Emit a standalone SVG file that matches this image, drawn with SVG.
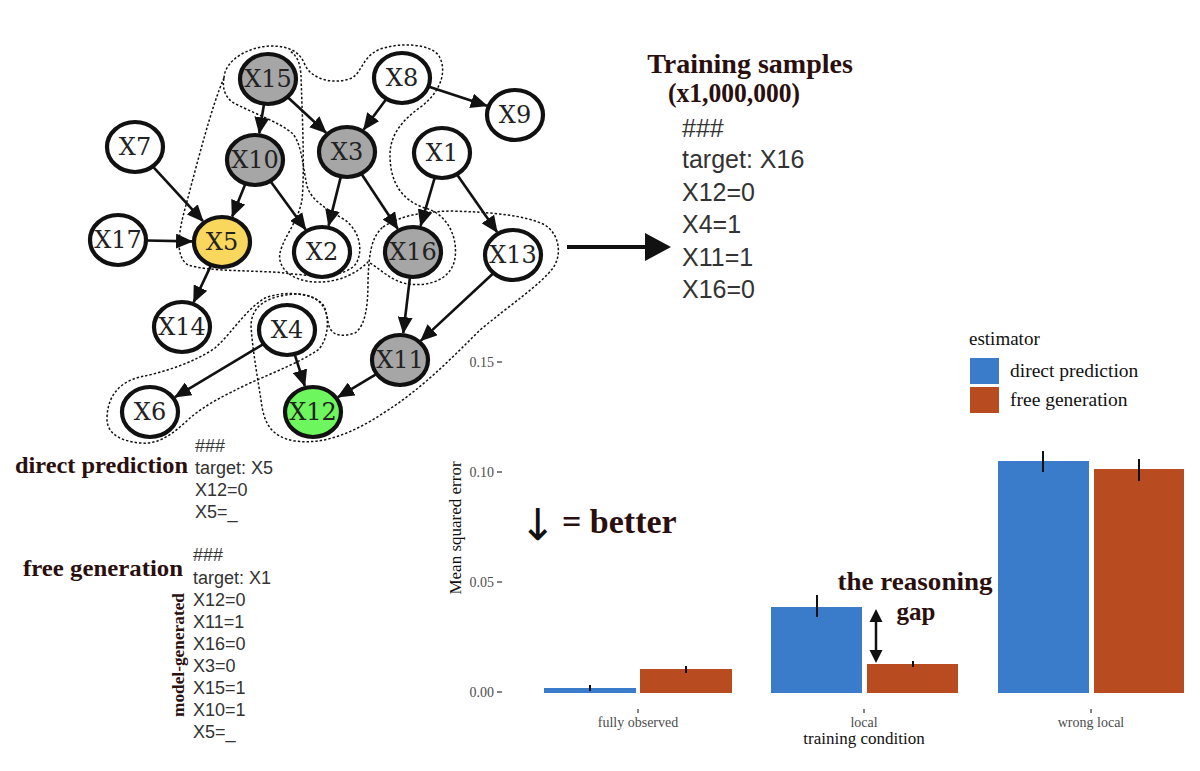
<svg xmlns="http://www.w3.org/2000/svg" width="1200" height="771" viewBox="0 0 1200 771">
<style>
.n ellipse{stroke:#111;stroke-width:4.2}
.n text{font-family:"DejaVu Serif",serif;font-size:24px;fill:#222;text-anchor:middle;dominant-baseline:central}
.w{fill:#fff}.g{fill:#a6a6a6}
.e line{stroke:#111;stroke-width:2.6}
.c path{fill:none;stroke:#111;stroke-width:1.5;stroke-dasharray:2.4 2}
.s{font-family:"Liberation Sans",Arial,sans-serif;fill:#333}
.b{font-family:"Liberation Serif","Times New Roman",serif;font-weight:bold;fill:#2b0f0f}
.r{font-family:"Liberation Serif","Times New Roman",serif}
.t{font-size:14px;fill:#4d4d4d;text-anchor:end}
.xt{font-size:14px;fill:#4d4d4d;text-anchor:middle}
</style>
<defs>
<marker id="ah" viewBox="0 0 17 15" refX="16" refY="7.5" markerWidth="17" markerHeight="15" markerUnits="userSpaceOnUse" orient="auto">
<path d="M0,0 L17,7.5 L0,15 Z" fill="#111"/>
</marker>
</defs>
<rect width="1200" height="771" fill="#fff"/>

<g id="contours" class="c">
<path d="M224,78 C212,105 198,160 186,205 C179,230 174,256 188,265 C210,272 255,270 285,273 C315,277 348,278 357,262 C364,246 357,229 345,220 C325,208 311,200 307,186 C303,168 302,145 293,134 C280,122 250,112 232,102 C225,96 222,88 224,78 Z"/>
<path d="M224,78 C225,60 248,47 270,46 C290,46 300,52 305,65 C312,80 335,85 352,78 C362,72 362,58 378,50 C398,42 430,43 439,56 C447,70 442,90 422,106 C402,120 390,135 390,155 C390,180 400,200 425,208 C448,214 458,238 455,258 C452,278 432,287 408,284 C390,281 380,268 368,262 C358,272 340,283 315,282 C292,281 277,268 280,253 C283,238 298,222 302,200 C305,170 302,110 301,75 C300,62 297,56 290,51"/>
<path d="M383,227 C400,216 420,212 450,211 C490,212 525,215 545,225 C560,235 562,255 553,268 C540,285 510,305 480,330 C450,360 420,390 385,412 C355,432 325,445 295,441 C272,437 264,425 261,400 C257,375 252,345 251,325 C252,305 268,296 295,294 C315,294 326,303 328,322 C330,335 340,338 355,333 C366,325 368,305 368,280 C369,258 370,238 383,227 Z"/>
<path d="M107,417 C108,395 120,382 140,377 C165,372 195,362 215,348 C232,333 245,310 265,298 C285,290 315,293 324,306 C330,320 328,340 318,350 C300,362 275,372 250,383 C225,395 205,405 190,418 C175,432 160,445 140,443 C118,441 106,432 107,417 Z"/>
</g>

<g id="edges" class="e">
<line x1="264" y1="104" x2="259.3" y2="133.3" marker-end="url(#ah)"/>
<line x1="287.5" y1="97" x2="326.1" y2="132.7" marker-end="url(#ah)"/>
<line x1="386.5" y1="98.8" x2="363.7" y2="129.6" marker-end="url(#ah)"/>
<line x1="428.3" y1="86.6" x2="486.8" y2="105.8" marker-end="url(#ah)"/>
<line x1="152.7" y1="166.3" x2="203" y2="221.2" marker-end="url(#ah)"/>
<line x1="245.5" y1="183.6" x2="232.2" y2="216.6" marker-end="url(#ah)"/>
<line x1="270.3" y1="180.9" x2="305.6" y2="229.5" marker-end="url(#ah)"/>
<line x1="340.9" y1="176.4" x2="328.6" y2="225.6" marker-end="url(#ah)"/>
<line x1="361.2" y1="173.5" x2="397.7" y2="228.8" marker-end="url(#ah)"/>
<line x1="434.9" y1="177.2" x2="420.6" y2="225.9" marker-end="url(#ah)"/>
<line x1="456.8" y1="174.3" x2="497.1" y2="232.1" marker-end="url(#ah)"/>
<line x1="146" y1="240.5" x2="192" y2="241.4" marker-end="url(#ah)"/>
<line x1="211.1" y1="265.1" x2="193.7" y2="302.1" marker-end="url(#ah)"/>
<line x1="410" y1="277" x2="403.3" y2="333.1" marker-end="url(#ah)"/>
<line x1="493.6" y1="273" x2="420.9" y2="340.6" marker-end="url(#ah)"/>
<line x1="263.7" y1="343.9" x2="175" y2="397.1" marker-end="url(#ah)"/>
<line x1="294.6" y1="354.1" x2="304.8" y2="386" marker-end="url(#ah)"/>
<line x1="376.7" y1="373.9" x2="338" y2="397.1" marker-end="url(#ah)"/>
<line x1="567" y1="247" x2="650" y2="247" style="stroke-width:4"/>
<polygon points="645,233 671,247 645,261" fill="#111"/>
</g>

<g id="X15" class="n"><ellipse class="g" cx="268" cy="79" rx="28" ry="25"/><text x="268" y="79">X15</text></g>
<g id="X8" class="n"><ellipse class="w" cx="402" cy="78" rx="28" ry="25"/><text x="402" y="78">X8</text></g>
<g id="X9" class="n"><ellipse class="w" cx="515" cy="115" rx="28" ry="25"/><text x="515" y="115">X9</text></g>
<g id="X7" class="n"><ellipse class="w" cx="135" cy="147" rx="28" ry="25"/><text x="135" y="147">X7</text></g>
<g id="X10" class="n"><ellipse class="g" cx="255" cy="160" rx="28" ry="25"/><text x="255" y="160">X10</text></g>
<g id="X3" class="n"><ellipse class="g" cx="347" cy="152" rx="28" ry="25"/><text x="347" y="152">X3</text></g>
<g id="X1" class="n"><ellipse class="w" cx="442" cy="153" rx="28" ry="25"/><text x="442" y="153">X1</text></g>
<g id="X17" class="n"><ellipse class="w" cx="118" cy="240" rx="28" ry="25"/><text x="118" y="240">X17</text></g>
<g id="X5" class="n"><ellipse cx="222" cy="242" rx="28" ry="25" fill="#f9d65c"/><text x="222" y="242">X5</text></g>
<g id="X2" class="n"><ellipse class="w" cx="322" cy="252" rx="28" ry="25"/><text x="322" y="252">X2</text></g>
<g id="X16" class="n"><ellipse class="g" cx="413" cy="252" rx="28" ry="25"/><text x="413" y="252">X16</text></g>
<g id="X13" class="n"><ellipse class="w" cx="513" cy="255" rx="28" ry="25"/><text x="513" y="255">X13</text></g>
<g id="X14" class="n"><ellipse class="w" cx="182" cy="327" rx="28" ry="25"/><text x="182" y="327">X14</text></g>
<g id="X4" class="n"><ellipse class="w" cx="287" cy="330" rx="28" ry="25"/><text x="287" y="330">X4</text></g>
<g id="X11" class="n"><ellipse class="g" cx="400" cy="360" rx="28" ry="25"/><text x="400" y="360">X11</text></g>
<g id="X6" class="n"><ellipse class="w" cx="150" cy="412" rx="28" ry="25"/><text x="150" y="412">X6</text></g>
<g id="X12" class="n"><ellipse cx="313" cy="412" rx="28" ry="25" fill="#6ef65f"/><text x="313" y="412">X12</text></g>

<g id="training">
<text class="b" x="750" y="73" font-size="28" text-anchor="middle">Training samples</text>
<text class="b" x="734" y="102" font-size="28" text-anchor="middle" textLength="132" lengthAdjust="spacingAndGlyphs">(x1,000,000)</text>
<g class="s" font-size="25">
<text x="682" y="137">###</text>
<text x="682" y="168">target: X16</text>
<text x="682" y="201">X12=0</text>
<text x="682" y="233">X4=1</text>
<text x="682" y="266">X11=1</text>
<text x="682" y="298">X16=0</text>
</g>
</g>

<g id="direct">
<text class="b" x="15" y="473" font-size="23" textLength="173" lengthAdjust="spacingAndGlyphs">direct prediction</text>
<g class="s" font-size="18">
<text x="195" y="452">###</text>
<text x="195" y="474">target: X5</text>
<text x="195" y="496">X12=0</text>
<text x="195" y="518">X5=_</text>
</g>
</g>

<g id="free">
<text class="b" x="23" y="576" font-size="24" textLength="160" lengthAdjust="spacingAndGlyphs">free generation</text>
<text class="b" transform="translate(184,655) rotate(-90)" font-size="17" text-anchor="middle" textLength="124" lengthAdjust="spacingAndGlyphs">model-generated</text>
<g class="s" font-size="18">
<text x="193" y="561">###</text>
<text x="193" y="584">target: X1</text>
<text x="193" y="606">X12=0</text>
<text x="193" y="628">X11=1</text>
<text x="193" y="650">X16=0</text>
<text x="193" y="672">X3=0</text>
<text x="193" y="694">X15=1</text>
<text x="193" y="716">X10=1</text>
<text x="193" y="738">X5=_</text>
</g>
</g>

<g id="chart">
<g class="r t">
<text x="494" y="366.5">0.15</text>
<text x="494" y="476.5">0.10</text>
<text x="494" y="586.5">0.05</text>
<text x="494" y="696.5">0.00</text>
</g>
<g stroke="#333" stroke-width="1.2">
<line x1="497" y1="362" x2="502" y2="362"/>
<line x1="497" y1="472" x2="502" y2="472"/>
<line x1="497" y1="582" x2="502" y2="582"/>
<line x1="497" y1="692" x2="502" y2="692"/>
<line x1="638" y1="709" x2="638" y2="713"/>
<line x1="864" y1="709" x2="864" y2="713"/>
<line x1="1091" y1="709" x2="1091" y2="713"/>
</g>
<text class="r" transform="translate(461,528) rotate(-90)" font-size="17" text-anchor="middle" fill="#111">Mean squared error</text>
<rect x="544" y="688" width="92" height="5" fill="#3a7cc9"/>
<rect x="640" y="669" width="92" height="24" fill="#b94b20"/>
<rect x="771" y="607" width="91" height="86" fill="#3a7cc9"/>
<rect x="867" y="664" width="91" height="29" fill="#b94b20"/>
<rect x="998" y="461" width="91" height="232" fill="#3a7cc9"/>
<rect x="1094" y="469" width="90" height="224" fill="#b94b20"/>
<g stroke="#111" stroke-width="2">
<line x1="590" y1="685" x2="590" y2="691"/>
<line x1="686" y1="666" x2="686" y2="673"/>
<line x1="817" y1="595" x2="817" y2="617"/>
<line x1="913" y1="661" x2="913" y2="667"/>
<line x1="1043" y1="451" x2="1043" y2="472"/>
<line x1="1139" y1="459" x2="1139" y2="481"/>
</g>
<g class="r xt">
<text x="638" y="727">fully observed</text>
<text x="864" y="727">local</text>
<text x="1091" y="727">wrong local</text>
</g>
<text class="r" x="864" y="744" font-size="17" text-anchor="middle" fill="#111">training condition</text>
</g>

<g id="legend">
<text class="r" x="969" y="345" font-size="19" fill="#111">estimator</text>
<rect x="970" y="358" width="29" height="26" fill="#3a7cc9"/>
<rect x="970" y="387" width="29" height="26" fill="#b94b20"/>
<text class="r" x="1010" y="377" font-size="19.5" fill="#111">direct prediction</text>
<text class="r" x="1010" y="406" font-size="19.5" fill="#111">free generation</text>
</g>

<g id="annotations">
<text x="538" y="540" font-family="'DejaVu Sans',sans-serif" font-size="44" text-anchor="middle" fill="#111">↓</text>
<text class="b" x="562" y="533" font-size="34">= better</text>
<text class="b" x="915" y="590" font-size="25" text-anchor="middle" textLength="155" lengthAdjust="spacingAndGlyphs">the reasoning</text>
<text class="b" x="916" y="620" font-size="25" text-anchor="middle">gap</text>
<line x1="876" y1="618" x2="876" y2="654" stroke="#111" stroke-width="2.5"/>
<polygon points="876,609 869.5,622 882.5,622" fill="#111"/>
<polygon points="876,663 869.5,650 882.5,650" fill="#111"/>
</g>
</svg>
